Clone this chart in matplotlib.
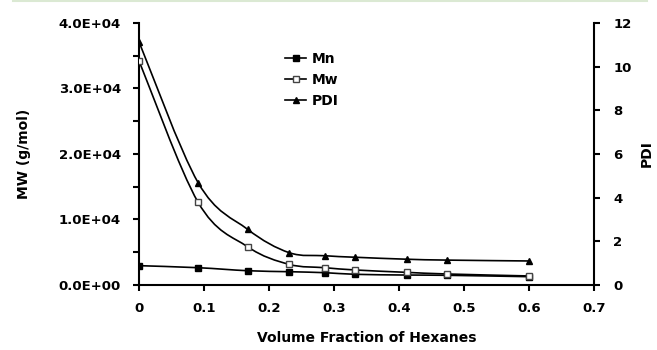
#!/usr/bin/env python3

# MW and PDI vs volume fraction of hexanes
# values

import matplotlib
matplotlib.use('Agg')
import matplotlib.pyplot as plt
from matplotlib.path import Path
from matplotlib.patches import PathPatch
from matplotlib.lines import Line2D
from matplotlib.ticker import FuncFormatter, MultipleLocator

# data
frac_hexanes = [0, 0.091, 0.167, 0.231, 0.286, 0.333, 0.412, 0.474, 0.6]
mn = [2950, 2640, 2180, 2030, 1880, 1630, 1520, 1480, 1270]
mw = [34200, 12600, 5840, 3150, 2640, 2290, 1930, 1680, 1380]
pdi = [11.13, 4.68, 2.55, 1.48, 1.34, 1.27, 1.18, 1.14, 1.10]

plt.rcParams['font.family'] = ['DejaVu Sans']
plt.rcParams['font.weight'] = 'bold'
plt.rcParams['font.size'] = 9.5


# smooth line like excel (catmull-rom to bezier), drawn in data coords
def smooth_path(xs, ys):
    pts = list(zip(xs, ys))
    verts = [pts[0]]
    codes = [Path.MOVETO]
    n = len(pts)
    for i in range(n - 1):
        p0 = pts[i - 1] if i > 0 else pts[i]
        p1 = pts[i]
        p2 = pts[i + 1]
        p3 = pts[i + 2] if i + 2 < n else pts[i + 1]
        c1 = (p1[0] + (p2[0] - p0[0]) / 6, p1[1] + (p2[1] - p0[1]) / 6)
        c2 = (p2[0] - (p3[0] - p1[0]) / 6, p2[1] - (p3[1] - p1[1]) / 6)
        verts += [c1, c2, p2]
        codes += [Path.CURVE4] * 3
    return Path(verts, codes)


fig = plt.figure(figsize=(6.57, 3.5), dpi=100)
ax = fig.add_axes([0.2116, 0.1857, 0.6925, 0.749])
ax2 = ax.twinx()

lw = 1.2
ax.add_patch(PathPatch(smooth_path(frac_hexanes, mn), fc='none', ec='black', lw=lw))
ax.add_patch(PathPatch(smooth_path(frac_hexanes, mw), fc='none', ec='black', lw=lw))
ax2.add_patch(PathPatch(smooth_path(frac_hexanes, pdi), fc='none', ec='black', lw=lw))

ax.plot(frac_hexanes, mn, ls='none', marker='s', ms=4.5, mfc='black', mec='black', zorder=5)
ax.plot(frac_hexanes, mw, ls='none', marker='s', ms=5, mfc='white', mec='#444444', mew=1.0, zorder=5)
ax2.plot(frac_hexanes, pdi, ls='none', marker='^', ms=5, mfc='black', mec='black', zorder=5)

ax.set_xlim(0, 0.7)
ax.set_ylim(0, 40000)
ax2.set_ylim(0, 12)

ax.xaxis.set_major_locator(MultipleLocator(0.1))
ax.yaxis.set_major_locator(MultipleLocator(10000))
ax.yaxis.set_minor_locator(MultipleLocator(5000))
ax2.yaxis.set_major_locator(MultipleLocator(2))

ax.xaxis.set_major_formatter(FuncFormatter(lambda v, p: '0' if abs(v) < 1e-9 else '%.1f' % v))
ax.yaxis.set_major_formatter(FuncFormatter(lambda v, p: '%.1E' % v))

for a in (ax, ax2):
    for s in a.spines.values():
        s.set_linewidth(1.5)
    a.spines['top'].set_visible(False)
    a.tick_params(direction='out', length=4, width=1.5, labelsize=9.5)
    a.tick_params(which='minor', direction='out', length=4, width=1.5)
ax.tick_params(axis='x', pad=8)
ax.tick_params(axis='y', pad=9)
ax2.tick_params(axis='y', pad=10)
ax.spines['right'].set_visible(False)
ax2.spines['left'].set_visible(False)
ax2.spines['bottom'].set_visible(False)

ax.set_xlabel('Volume Fraction of Hexanes', fontsize=10, fontweight='bold', labelpad=12)
ax.set_ylabel('MW (g/mol)', fontsize=10, fontweight='bold', labelpad=20)
ax2.set_ylabel('PDI', fontsize=10, fontweight='bold', labelpad=6)

handles = [
    Line2D([], [], color='black', lw=lw, marker='s', ms=4.5, mfc='black', mec='black'),
    Line2D([], [], color='black', lw=lw, marker='s', ms=5, mfc='white', mec='#444444'),
    Line2D([], [], color='black', lw=lw, marker='^', ms=5, mfc='black', mec='black'),
]
fig.legend(handles, ['Mn', 'Mw', 'PDI'], loc='upper left', bbox_to_anchor=(0.434, 0.852),
           frameon=False, fontsize=10, handlelength=1.5, handletextpad=0.4,
           labelspacing=0.5, borderpad=0, borderaxespad=0)

# thin green line at the top of the image
fig.add_artist(Line2D([0.02, 0.985], [0.997, 0.997], color='#dbe9d3', lw=1.5,
                      transform=fig.transFigure))

fig.savefig('out.png', dpi=100)
